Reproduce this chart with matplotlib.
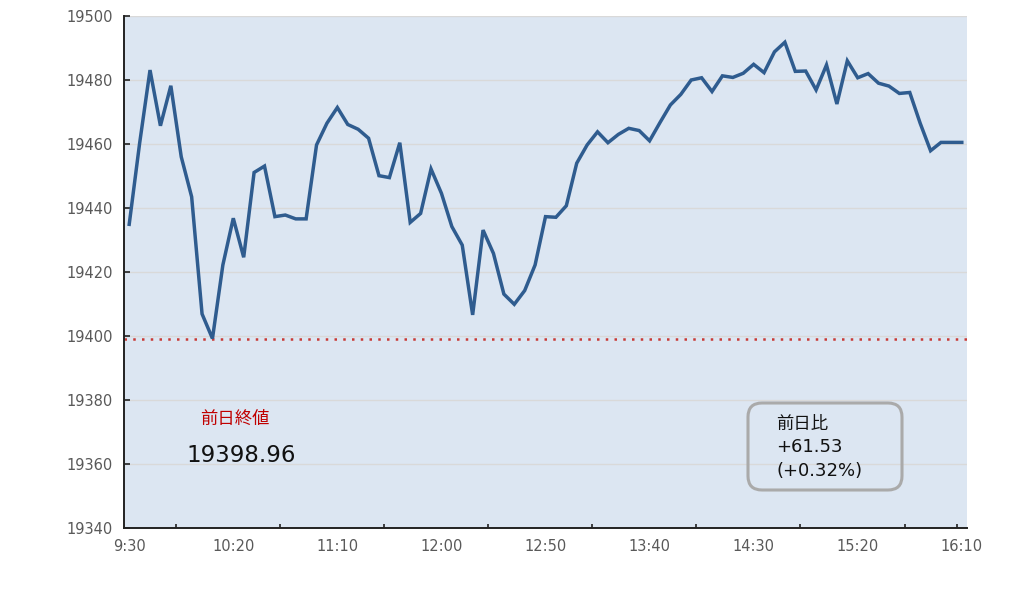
import matplotlib
matplotlib.use("Agg")
import matplotlib.pyplot as plt
from matplotlib.patches import FancyBboxPatch
from matplotlib.transforms import IdentityTransform
import numpy as np

plt.rcParams['font.family'] = ['DejaVu Sans', 'Noto Sans CJK JP']

# 5-minute index values, 9:30 - 16:10
values = [
    19434.9, 19460.2, 19483.1, 19465.7, 19478.2, 19456.0, 19443.5, 19406.9, 19399.2, 19422.2,
    19436.8, 19424.6, 19451.1, 19453.1, 19437.3, 19437.8, 19436.6, 19436.6, 19459.7, 19466.5,
    19471.4, 19466.1, 19464.6, 19461.8, 19450.1, 19449.5, 19460.4, 19435.5, 19438.3, 19452.2,
    19444.6, 19434.2, 19428.4, 19406.6, 19433.1, 19425.8, 19413.1, 19409.9, 19414.2, 19422.2,
    19437.3, 19437.1, 19440.7, 19454.0, 19459.7, 19463.8, 19460.4, 19463.0, 19464.9, 19464.2,
    19461.0, 19466.7, 19472.2, 19475.5, 19480.0, 19480.7, 19476.4, 19481.3, 19480.8, 19482.1,
    19484.9, 19482.3, 19488.8, 19491.8, 19482.7, 19482.8, 19476.9, 19484.7, 19472.5, 19486.0,
    19480.7, 19482.0, 19479.0, 19478.1, 19475.8, 19476.1, 19466.5, 19457.9, 19460.5, 19460.5,
    19460.5,
]
time_labels = ["9:30", "10:20", "11:10", "12:00", "12:50", "13:40", "14:30", "15:20", "16:10"]
prev_close = 19398.96
change = 61.53
change_pct = 0.32

x = np.arange(len(values))

fig = plt.figure(figsize=(10.28, 5.97), dpi=100)
ax = fig.add_axes([124 / 1028, 1 - 528 / 597, 843 / 1028, 512 / 597])
ax.set_facecolor('#DCE6F2')

ax.plot(x, values, color='#2F5C8F', lw=2.5, solid_joinstyle='miter', zorder=3)
ax.axhline(prev_close, color='#C93A36', lw=1.8, linestyle=(0, (1, 2.5)), zorder=2)

ax.set_xlim(-0.5, len(values) - 0.5)
ax.set_ylim(19340, 19500)
ax.set_yticks(np.arange(19340, 19501, 20))
ax.grid(axis='y', color='#D9D9D9', lw=1)
ax.set_axisbelow(True)

ax.set_xticks(np.arange(0, len(values), 10))
ax.set_xticklabels(time_labels)
ax.set_xticks(list(np.arange(4.5, len(values), 10)) + [79.5], minor=True)
ax.tick_params(axis='x', which='major', length=0, pad=8, labelsize=10.5, labelcolor='#595959')
ax.tick_params(axis='x', which='minor', direction='in', length=3, width=1.2, color='#222222')
ax.tick_params(axis='y', direction='in', length=4, width=1.2, color='#222222',
               labelsize=10.5, labelcolor='#595959', pad=8)

for s in ['top', 'right']:
    ax.spines[s].set_visible(False)
for s in ['left', 'bottom']:
    ax.spines[s].set_color('#222222')
    ax.spines[s].set_linewidth(1.4)

# previous close label
fig.text(235 / 1028, 1 - 419 / 597, '前日終値', color='#C00000', fontsize=12.5,
         family=['Noto Sans CJK JP'], ha='center', va='center')
fig.text(241 / 1028, 1 - 456 / 597, f'{prev_close:.2f}', color='#111111', fontsize=16.5,
         ha='center', va='center')

# change box
box = FancyBboxPatch((748, 597 - 490), 154, 87, boxstyle='round,pad=0,rounding_size=14',
                     transform=IdentityTransform(), facecolor='none',
                     edgecolor='#AAAAAA', lw=2.2)
fig.patches.append(box)
box_lines = ['前日比', f'+{change:.2f}', f'(+{change_pct:.2f}%)']
box_fonts = [['Noto Sans CJK JP'], ['DejaVu Sans'], ['DejaVu Sans']]
box_sizes = [12.5, 13, 13]
for i, t in enumerate(box_lines):
    fig.text(776 / 1028, 1 - (424 + 23.5 * i) / 597, t, color='#111111', fontsize=box_sizes[i],
             family=box_fonts[i], ha='left', va='center')

fig.savefig('out.png', dpi=100)
